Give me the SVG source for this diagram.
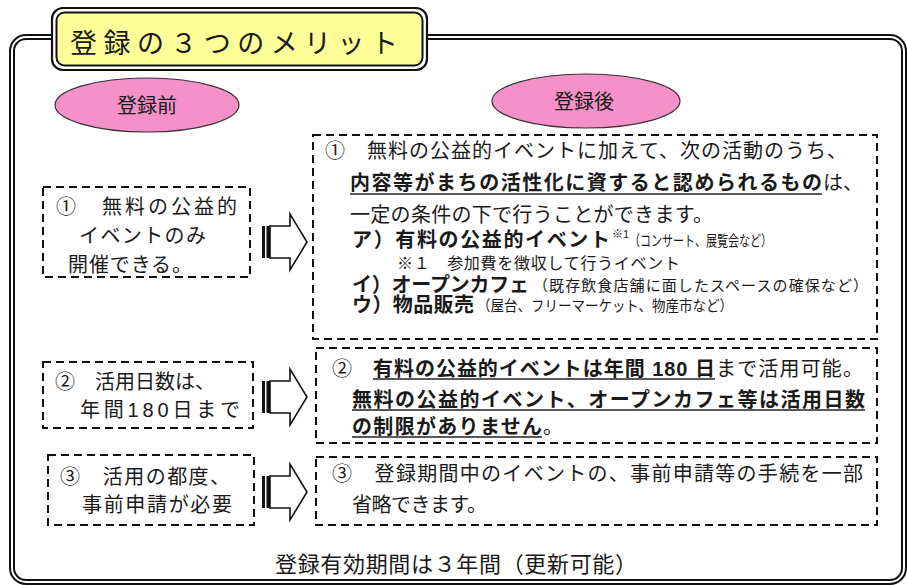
<svg xmlns="http://www.w3.org/2000/svg" width="907" height="585" viewBox="0 0 907 585">
<style>
text{font-family:"Liberation Sans","Noto Sans CJK JP",sans-serif;fill:#1a1a1a;}
.t{font-size:20px;}
.b{font-weight:bold;}
.s{font-size:15px;}
.dash{fill:none;stroke:#111;stroke-width:2;stroke-dasharray:8 5;}
.ul{stroke:#222;stroke-width:1.6;}
.ell{fill:#F590C8;stroke:#333;stroke-width:1.2;}
.arr{fill:#fff;stroke:#111;stroke-width:1.6;stroke-linejoin:miter;}
</style>
<defs>
<g id="arrow">
<rect x="262" y="-16" width="3" height="32" fill="#111"/>
<rect x="266.5" y="-16" width="3.5" height="32" fill="#111"/>
<path class="arr" d="M270,-16 H290 V-28 L307,0 L290,28 V16 H270 Z"/>
</g>
</defs>
<rect width="907" height="585" fill="#fff"/>
<g id="frame">
<rect x="12" y="37" width="892" height="545" rx="14" fill="none" stroke="#111" stroke-width="6"/>
<rect x="12" y="37" width="892" height="545" rx="14" fill="none" stroke="#fff" stroke-width="2"/>
</g>
<g id="title">
<rect x="52" y="8" width="375" height="62" rx="11" fill="#fff" stroke="#111" stroke-width="2.2"/>
<rect x="56.5" y="12.5" width="366" height="53" rx="8" fill="#FFFF99" stroke="#111" stroke-width="2"/>
<text x="70" y="53" font-size="27" textLength="328" lengthAdjust="spacing">登録の３つのメリット</text>
</g>
<g id="before-label">
<ellipse class="ell" cx="147" cy="105" rx="92" ry="27"/>
<text class="t" x="147" y="113" text-anchor="middle">登録前</text>
</g>
<g id="after-label">
<ellipse class="ell" cx="586" cy="101" rx="94" ry="27"/>
<text class="t" x="584" y="109" text-anchor="middle">登録後</text>
</g>
<g id="before-1">
<rect class="dash" x="43" y="187" width="207" height="90"/>
<text class="t" x="56" y="214" textLength="181" lengthAdjust="spacing">①　無料の公益的</text>
<text class="t" x="79" y="243" textLength="127" lengthAdjust="spacing">イベントのみ</text>
<text class="t" x="68" y="272" textLength="124" lengthAdjust="spacing">開催できる。</text>
</g>
<g id="before-2">
<rect class="dash" x="43" y="362" width="210" height="66"/>
<text class="t" x="55" y="389" textLength="160" lengthAdjust="spacing">②　活用日数は、</text>
<text class="t" x="80" y="417" textLength="160" lengthAdjust="spacing">年間180日まで</text>
</g>
<g id="before-3">
<rect class="dash" x="48" y="455" width="206" height="70"/>
<text class="t" x="60" y="484" textLength="170" lengthAdjust="spacing">③　活用の都度、</text>
<text class="t" x="82" y="512" textLength="150" lengthAdjust="spacing">事前申請が必要</text>
</g>
<g id="after-1">
<rect class="dash" x="313" y="135" width="564" height="204"/>
<text class="t" x="325" y="158" textLength="522" lengthAdjust="spacing">①　無料の公益的イベントに加えて、次の活動のうち、</text>
<text class="t b" x="350" y="190" textLength="472" lengthAdjust="spacing">内容等がまちの活性化に資すると認められるもの</text>
<text class="t" x="823" y="190">は、</text>
<line class="ul" x1="350" y1="194" x2="822" y2="194"/>
<text class="t" x="350" y="222" textLength="363" lengthAdjust="spacing">一定の条件の下で行うことができます。</text>
<text class="t b" x="352" y="247" textLength="258" lengthAdjust="spacing">ア）有料の公益的イベント</text>
<text x="612" y="238" font-size="11">※1</text>
<text class="s" x="629" y="246" textLength="143" lengthAdjust="spacingAndGlyphs">（コンサート、展覧会など）</text>
<text x="397" y="269" font-size="16" textLength="283" lengthAdjust="spacing">※１　参加費を徴収して行うイベント</text>
<text class="t b" x="352" y="292" textLength="177" lengthAdjust="spacing">イ）オープンカフェ</text>
<text class="s" x="533" y="291" textLength="335" lengthAdjust="spacing">（既存飲食店舗に面したスペースの確保など）</text>
<text class="t b" x="352" y="312" textLength="122" lengthAdjust="spacing">ウ）物品販売</text>
<text class="s" x="477" y="311" textLength="256" lengthAdjust="spacingAndGlyphs">（屋台、フリーマーケット、物産市など）</text>
</g>
<g id="after-2">
<rect class="dash" x="316" y="348" width="561" height="95"/>
<text class="t" x="332" y="376">②</text>
<text class="t b" x="373" y="376" textLength="342" lengthAdjust="spacing">有料の公益的イベントは年間 180 日</text>
<line class="ul" x1="373" y1="379" x2="715" y2="379"/>
<text class="t" x="716" y="376" textLength="147" lengthAdjust="spacing">まで活用可能。</text>
<text class="t b" x="352" y="407" textLength="513" lengthAdjust="spacing">無料の公益的イベント、オープンカフェ等は活用日数</text>
<line class="ul" x1="352" y1="410" x2="865" y2="410"/>
<text class="t b" x="352" y="434" textLength="190" lengthAdjust="spacing">の制限がありません</text>
<line class="ul" x1="352" y1="437" x2="542" y2="437"/>
<text class="t" x="543" y="434">。</text>
</g>
<g id="after-3">
<rect class="dash" x="316" y="457" width="561" height="68"/>
<text class="t" x="332" y="481" textLength="531" lengthAdjust="spacing">③　登録期間中のイベントの、事前申請等の手続を一部</text>
<text class="t" x="352" y="512" textLength="135" lengthAdjust="spacing">省略できます。</text>
</g>
<g id="connectors">
<use href="#arrow" transform="translate(0,242)"/>
<use href="#arrow" transform="translate(0,397)"/>
<use href="#arrow" transform="translate(0,492)"/>
</g>
<g id="footer">
<text x="275" y="572" font-size="22" textLength="362" lengthAdjust="spacing">登録有効期間は３年間（更新可能）</text>
</g>
</svg>
